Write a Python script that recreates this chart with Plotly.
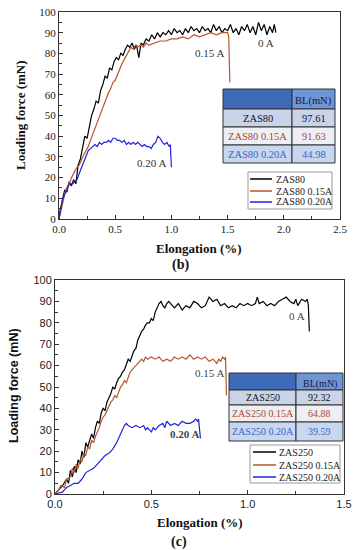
import plotly.graph_objects as go

W, H = 356, 550

# ---------------- data: panel (b) ----------------
b_black_x = [0, 0.01, 0.03, 0.05, 0.07, 0.09, 0.11, 0.13, 0.15, 0.17, 0.19, 0.21, 0.23, 0.25, 0.27,
             0.29, 0.31, 0.33, 0.35, 0.37, 0.39, 0.41, 0.43, 0.45, 0.47, 0.49, 0.51, 0.53, 0.55,
             0.57, 0.59, 0.61, 0.63, 0.65, 0.67, 0.69, 0.71, 0.73, 0.75, 0.775, 0.80, 0.825, 0.85,
             0.875, 0.90, 0.925, 0.95, 0.975, 1.0, 1.025, 1.05, 1.075, 1.10, 1.125, 1.15, 1.175,
             1.20, 1.225, 1.25, 1.275, 1.30, 1.325, 1.35, 1.375, 1.40, 1.425, 1.45, 1.475, 1.50,
             1.525, 1.55, 1.575, 1.60, 1.625, 1.65, 1.675, 1.70, 1.725, 1.75, 1.775, 1.80, 1.825,
             1.85, 1.875, 1.90, 1.915, 1.93]
b_black_y = [0, 4, 9, 14, 13, 18, 16, 19, 17, 26, 29, 35, 40, 39, 45, 50, 53, 57, 56, 62, 65, 69,
             68, 73, 72, 76, 78, 77, 80, 79, 82, 84, 83, 85, 82, 84, 78, 85, 84, 87, 86, 89, 87,
             90, 88, 90, 89, 91, 89, 92, 90, 91, 89, 92, 90, 93, 91, 92, 90, 93, 91, 92, 90, 94,
             91, 93, 90, 92, 91, 94, 90, 92, 89, 93, 91, 94, 90, 93, 89, 95, 91, 94, 89, 93, 90,
             94, 90]

b_brown_x = [0, 0.02, 0.04, 0.06, 0.08, 0.10, 0.12, 0.14, 0.16, 0.18, 0.20, 0.22, 0.24, 0.26,
             0.28, 0.30, 0.32, 0.34, 0.36, 0.38, 0.40, 0.42, 0.44, 0.46, 0.48, 0.50, 0.52, 0.54,
             0.56, 0.58, 0.60, 0.62, 0.64, 0.66, 0.68, 0.70, 0.725, 0.75, 0.775, 0.80, 0.85, 0.90,
             0.95, 1.0, 1.05, 1.10, 1.15, 1.20, 1.25, 1.30, 1.35, 1.40, 1.45, 1.50, 1.51, 1.52]
b_brown_y = [0, 5, 10, 14, 16, 19, 21, 23, 25, 26, 29, 31, 33, 35, 38, 41, 44, 47, 50, 53, 56,
             58, 61, 63, 66, 67, 70, 73, 75, 77, 79, 81, 83, 82, 84, 83, 84, 83, 85, 84, 85, 86,
             86, 87, 87, 88, 87, 89, 88, 89, 90, 89, 90, 90, 88, 66]

b_blue_x = [0, 0.01, 0.02, 0.03, 0.05, 0.07, 0.08, 0.10, 0.12, 0.14, 0.16, 0.18, 0.20, 0.22,
            0.24, 0.26, 0.28, 0.30, 0.32, 0.34, 0.36, 0.38, 0.40, 0.42, 0.44, 0.46, 0.48, 0.50,
            0.52, 0.54, 0.56, 0.58, 0.60, 0.62, 0.64, 0.66, 0.68, 0.70, 0.72, 0.74, 0.76, 0.78,
            0.80, 0.82, 0.84, 0.86, 0.88, 0.90, 0.92, 0.94, 0.96, 0.98, 0.99, 1.00]
b_blue_y = [0, 3, 6, 9, 12, 14, 16, 17, 17, 18, 19, 22, 25, 28, 31, 33, 34, 35, 36, 35, 37, 36,
            37, 37, 38, 37, 39, 39, 38, 38, 37, 38, 36, 37, 36, 37, 36, 37, 36, 35, 36, 35, 35,
            34, 36, 37, 40, 39, 37, 36, 37, 35, 36, 25]

# ---------------- data: panel (c) ----------------
c_black_x = [0, 0.02, 0.04, 0.06, 0.07, 0.08, 0.09, 0.10, 0.11, 0.12, 0.13, 0.14, 0.15, 0.16,
             0.17, 0.18, 0.19, 0.20, 0.21, 0.22, 0.23, 0.24, 0.25, 0.26, 0.27, 0.28, 0.29, 0.30,
             0.31, 0.32, 0.33, 0.34, 0.35, 0.36, 0.37, 0.38, 0.39, 0.40, 0.41, 0.42, 0.43, 0.44,
             0.45, 0.46, 0.47, 0.48, 0.49, 0.50, 0.51, 0.52, 0.53, 0.54, 0.55, 0.56, 0.57, 0.58,
             0.59, 0.60, 0.62, 0.64, 0.66, 0.68, 0.70, 0.72, 0.74, 0.76, 0.78, 0.80, 0.82, 0.84,
             0.86, 0.88, 0.90, 0.92, 0.94, 0.96, 0.98, 1.00, 1.02, 1.04, 1.05, 1.06, 1.08, 1.10,
             1.12, 1.14, 1.16, 1.18, 1.20, 1.22, 1.24, 1.25, 1.26, 1.28, 1.30, 1.31, 1.315, 1.32]
c_black_y = [0, 2, 4, 7, 5, 11, 8, 13, 10, 16, 14, 20, 17, 24, 22, 25, 28, 26, 31, 34, 33, 38,
             40, 39, 43, 45, 47, 50, 49, 52, 54, 55, 57, 58, 61, 63, 62, 65, 67, 68, 72, 74, 76,
             77, 79, 80, 80, 82, 81, 85, 87, 89, 90, 88, 87, 89, 90, 89, 87, 89, 86, 88, 87, 90,
             89, 87, 88, 92, 90, 91, 88, 89, 87, 88, 87, 89, 88, 89, 88, 89, 92, 89, 90, 88, 89,
             88, 90, 91, 92, 90, 89, 91, 88, 91, 90, 91, 88, 76]

c_brown_x = [0, 0.02, 0.03, 0.05, 0.06, 0.08, 0.09, 0.10, 0.11, 0.12, 0.13, 0.14, 0.15, 0.16,
             0.17, 0.18, 0.19, 0.20, 0.21, 0.22, 0.23, 0.24, 0.25, 0.26, 0.27, 0.28, 0.29, 0.30,
             0.31, 0.32, 0.33, 0.34, 0.35, 0.36, 0.37, 0.38, 0.39, 0.40, 0.41, 0.42, 0.43, 0.44,
             0.45, 0.46, 0.47, 0.48, 0.50, 0.52, 0.54, 0.56, 0.58, 0.60, 0.62, 0.64, 0.66, 0.68,
             0.70, 0.72, 0.74, 0.76, 0.78, 0.80, 0.82, 0.84, 0.85, 0.86, 0.87, 0.88, 0.885, 0.89]
c_brown_y = [0, 2, 4, 3, 7, 8, 12, 10, 14, 12, 16, 15, 19, 18, 22, 21, 25, 24, 27, 29, 31, 34,
             36, 37, 39, 41, 43, 44, 46, 45, 48, 50, 51, 53, 52, 55, 57, 58, 59, 60, 61, 62, 63,
             62, 64, 63, 64, 63, 64, 62, 63, 62, 64, 63, 64, 63, 65, 63, 64, 63, 64, 62, 63, 61,
             63, 62, 64, 63, 64, 46]

c_blue_x = [0, 0.02, 0.04, 0.05, 0.06, 0.08, 0.10, 0.12, 0.14, 0.16, 0.18, 0.20, 0.22, 0.24,
            0.26, 0.28, 0.30, 0.32, 0.33, 0.35, 0.36, 0.37, 0.38, 0.40, 0.42, 0.44, 0.46, 0.47,
            0.48, 0.50, 0.51, 0.52, 0.54, 0.56, 0.57, 0.58, 0.60, 0.62, 0.64, 0.66, 0.68, 0.70,
            0.72, 0.73, 0.74, 0.745, 0.755]
c_blue_y = [0, 0.5, 1, 2, 3, 4, 5, 5, 7, 10, 11, 12, 14, 16, 18, 19, 21, 24, 26, 30, 32, 33, 32,
            31, 32, 31, 32, 30, 31, 29, 31, 30, 32, 33, 31, 34, 32, 33, 32, 34, 33, 33, 34, 35,
            34, 35, 26]

# labels
b_names = ["ZAS80", "ZAS80 0.15A", "ZAS80 0.20A"]
b_bl = ["97.61", "91.63", "44.98"]
c_names = ["ZAS250", "ZAS250 0.15A", "ZAS250 0.20A"]
c_bl = ["92.32", "64.88", "39.59"]
b_curr_labels = ["0 A", "0.15 A", "0.20 A"]
b_curr_pos = [(1.84, 85), (1.34, 80), (0.82, 27)]
c_curr_labels = ["0 A", "0.15 A", "0.20 A"]
c_curr_pos = [(1.257, 83), (0.80, 56.5), (0.67, 28)]

# ---------------- styling ----------------
COLORS = ["#000000", "#B5562B", "#2222DD"]
SERIF = "Liberation Serif, Times New Roman, serif"
SANS = "Liberation Sans, Arial, sans-serif"


def px(xp):
    return xp / W


def py(yp):
    return 1 - yp / H


fig = go.Figure()
for xs, ys, col in [(b_black_x, b_black_y, COLORS[0]), (b_brown_x, b_brown_y, COLORS[1]),
                    (b_blue_x, b_blue_y, COLORS[2])]:
    fig.add_trace(go.Scatter(x=xs, y=ys, mode="lines", line=dict(color=col, width=1.2),
                             xaxis="x", yaxis="y", showlegend=False))
for xs, ys, col in [(c_black_x, c_black_y, COLORS[0]), (c_brown_x, c_brown_y, COLORS[1]),
                    (c_blue_x, c_blue_y, COLORS[2])]:
    fig.add_trace(go.Scatter(x=xs, y=ys, mode="lines", line=dict(color=col, width=1.2),
                             xaxis="x2", yaxis="y2", showlegend=False))

# plot areas in pixels
B_L, B_R, B_T, B_B = 59, 340, 12, 219
C_L, C_R, C_T, C_B = 55, 344, 280, 494

axis_common = dict(showgrid=False, zeroline=False, showline=True, linecolor="#333", linewidth=1,
                   mirror=True, ticks="inside", ticklen=4, tickcolor="#333", automargin=False)

fig.update_layout(
    width=W, height=H, margin=dict(l=0, r=0, t=0, b=0, autoexpand=False),
    paper_bgcolor="white", plot_bgcolor="white",
    xaxis=dict(domain=[px(B_L), px(B_R)], range=[0, 2.5], dtick=0.5, tickformat=".1f",
               anchor="y", tickfont=dict(family=SERIF, size=11, color="#222"),
               minor=dict(ticks="inside", ticklen=3, dtick=0.25, tickcolor="#333"), **axis_common),
    yaxis=dict(domain=[py(B_B), py(B_T)], range=[0, 100], dtick=10, anchor="x",
               tickfont=dict(family=SERIF, size=11, color="#222"),
               minor=dict(ticks="inside", ticklen=3, dtick=5, tickcolor="#333"), **axis_common),
    xaxis2=dict(domain=[px(C_L), px(C_R)], range=[0, 1.5], dtick=0.5, tickformat=".1f",
                anchor="y2", tickfont=dict(family=SANS, size=11, color="#222"),
                minor=dict(ticks="inside", ticklen=3, dtick=0.25, tickcolor="#333"), **axis_common),
    yaxis2=dict(domain=[py(C_B), py(C_T)], range=[0, 100], dtick=10, anchor="x2",
                tickfont=dict(family=SANS, size=11, color="#222"),
                minor=dict(ticks="inside", ticklen=3, dtick=5, tickcolor="#333"), **axis_common),
)

annotations = []
shapes = []

# current labels on curves
for (lab, (ax_, ay_)) in zip(b_curr_labels, b_curr_pos):
    annotations.append(dict(x=ax_, y=ay_, xref="x", yref="y", text=lab, showarrow=False,
                            xanchor="center", yanchor="middle",
                            font=dict(family=SERIF, size=11, color="#333")))
for i, (lab, (ax_, ay_)) in enumerate(zip(c_curr_labels, c_curr_pos)):
    txt = "<b>%s</b>" % lab if i == 2 else lab
    annotations.append(dict(x=ax_, y=ay_, xref="x2", yref="y2", text=txt, showarrow=False,
                            xanchor="center", yanchor="middle",
                            font=dict(family=SERIF, size=11, color="#444")))


def label(text, xp, yp, family, size, angle=0, color="#111", xanchor="center"):
    annotations.append(dict(x=px(xp), y=py(yp), xref="paper", yref="paper", text=text,
                            showarrow=False, textangle=angle, xanchor=xanchor, yanchor="middle",
                            font=dict(family=family, size=size, color=color)))


# axis titles
label("<b>Loading force (mN)</b>", 20, 115, SERIF, 13, -90)
label("<b>Elongation (%)</b>", 199, 248, SERIF, 13)
label("<b>(b)</b>", 180, 265, SERIF, 14)
label("<b>Loading force (mN)</b>", 14, 386, SANS, 12.5, -90)
label("<b>Elongation (%)</b>", 200, 522, SERIF, 13)
label("<b>(c)</b>", 179, 542, SERIF, 14)


def rect(x0, y0, x1, y1, fill, line="#333", lw=1):
    shapes.append(dict(type="rect", xref="paper", yref="paper", x0=px(x0), x1=px(x1),
                       y0=py(y1), y1=py(y0), fillcolor=fill, line=dict(color=line, width=lw),
                       layer="above"))


def table(cols, rows, names, vals, size):
    hdr_fill = ["#3D6BB8", "#6E95D6"]
    row_fill = ["#C9D4E9", "#EEEFF5", "#C8D6EE"]
    txt_col = ["#111111", "#B0452A", "#3A66C8"]
    rect(cols[0], rows[0], cols[1], rows[1], hdr_fill[0])
    rect(cols[1], rows[0], cols[2], rows[1], hdr_fill[1])
    label("BL(mN)", (cols[1] + cols[2]) / 2, (rows[0] + rows[1]) / 2 + 2, SERIF, size,
          color="#1a1a40")
    for i in range(3):
        rect(cols[0], rows[i + 1], cols[1], rows[i + 2], row_fill[i])
        rect(cols[1], rows[i + 1], cols[2], rows[i + 2], row_fill[i])
        yc = (rows[i + 1] + rows[i + 2]) / 2
        label(names[i], (cols[0] + cols[1]) / 2, yc, SERIF, size, color=txt_col[i])
        label(vals[i], (cols[1] + cols[2]) / 2, yc, SERIF, size, color=txt_col[i])


table([223, 292, 335], [89, 109, 127, 145, 163], b_names, b_bl, 10.5)
table([229, 296, 343], [373, 390, 405, 422, 441], c_names, c_bl, 10)


def legend(box, ys, x_line, x_text, names, size):
    rect(box[0], box[1], box[2], box[3], "white", line="#999", lw=1)
    for yv, nm, col in zip(ys, names, COLORS):
        shapes.append(dict(type="line", xref="paper", yref="paper", x0=px(x_line[0]),
                           x1=px(x_line[1]), y0=py(yv), y1=py(yv), line=dict(color=col, width=1.5),
                           layer="above"))
        label(nm, x_text, yv, SERIF, size, color="#222", xanchor="left")


legend([248, 172, 332, 209], [179, 191, 202], [250, 272], 274, b_names, 10)
legend([250, 445, 340, 483], [452, 465, 477], [253, 276], 277, c_names, 10)

fig.update_layout(annotations=annotations, shapes=shapes)
fig.write_html("out.html", config={"displayModeBar": False},
               post_script="document.body.style.margin='0';")
